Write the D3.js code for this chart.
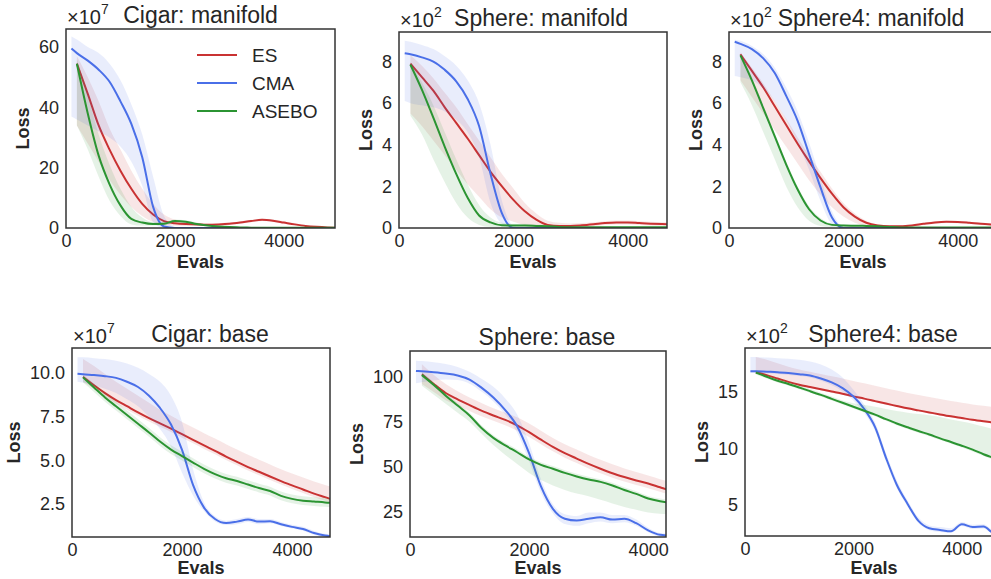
<!DOCTYPE html>
<html>
<head>
<meta charset="utf-8">
<script src="https://cdn.jsdelivr.net/npm/d3@7"></script>
<style>
  body { margin: 0; background: #fff; }
  svg { display: block; font-family: "Liberation Sans", Arial, sans-serif; }
</style>
</head>
<body>
<svg id="chart" width="991" height="579"></svg>
<script>
// evaluation counts shared by every curve (ES / ASEBO start at 200)
const evals = [100, 200, 400, 600, 800, 1000, 1200, 1400, 1600, 1800, 2000, 2200, 2400,
               2600, 2800, 3000, 3200, 3400, 3600, 3800, 4000, 4200, 4400, 4600, 4800, 5000];
const methods = ["ES", "CMA", "ASEBO"];
const xTicks = [0, 2000, 4000];

// Cigar: manifold  (x1e7)
const cigarM_es    = [null, 54.5, 44.5, 34, 26, 19, 13, 8, 4.5, 2.3, 1.6, 1.3, 1.2, 1.1, 1.2, 1.4, 1.8, 2.3, 2.7, 2.4, 1.8, 1.2, 0.7, 0.4, 0.2, 0.1];
const cigarM_esHi  = [null, 57, 50, 42, 33, 26, 19, 13, 8, 4.5, 2.8, 2.0, 1.7, 1.5, 1.6, 1.8, 2.2, 2.7, 3.1, 2.8, 2.2, 1.6, 1.0, 0.6, 0.35, 0.2];
const cigarM_esLo  = [null, 34, 28, 22, 16, 11, 7, 4, 2, 1, 0.8, 0.7, 0.7, 0.7, 0.8, 1.0, 1.4, 1.9, 2.3, 2.0, 1.4, 0.9, 0.4, 0.2, 0.1, 0.05];
const cigarM_cma   = [59.5, 58, 55.5, 52.5, 48.5, 42, 34.5, 23.5, 7, 0.5, 0, 0, 0, 0, 0, 0, 0, 0, 0, 0, 0, 0, 0, 0, 0, 0];
const cigarM_cmaHi = [63.5, 62.5, 60, 58, 54.5, 49, 41, 31, 17, 4, 0.3, 0, 0, 0, 0, 0, 0, 0, 0, 0, 0, 0, 0, 0, 0, 0];
const cigarM_cmaLo = [37, 36, 34, 32, 30, 27, 22, 14, 2, 0, 0, 0, 0, 0, 0, 0, 0, 0, 0, 0, 0, 0, 0, 0, 0, 0];
const cigarM_as    = [null, 54.5, 38, 24, 14.5, 7.5, 3, 1.8, 1.3, 1.4, 2.3, 2.1, 1.3, 0.8, 0.5, 0.3, 0.2, 0.1, 0.05, 0.05, 0.05, 0.05, 0.05, 0.05, 0.05, 0.05];
const cigarM_asHi  = [null, 56, 44, 31, 21, 13, 7, 3.5, 2.0, 2.0, 2.8, 2.6, 1.8, 1.1, 0.8, 0.5, 0.35, 0.2, 0.1, 0.1, 0.1, 0.1, 0.1, 0.1, 0.1, 0.1];
const cigarM_asLo  = [null, 34, 26, 17, 9, 4, 1.2, 0.8, 0.8, 0.9, 1.8, 1.6, 0.9, 0.5, 0.3, 0.15, 0.1, 0.05, 0, 0, 0, 0, 0, 0, 0, 0];

// Sphere: manifold  (x1e2)
const sphereM_es    = [null, 7.9, 7.25, 6.6, 5.8, 5.05, 4.3, 3.5, 2.7, 2.0, 1.35, 0.8, 0.4, 0.15, 0.1, 0.1, 0.13, 0.18, 0.24, 0.27, 0.27, 0.24, 0.21, 0.19, 0.18, 0.18];
const sphereM_esHi  = [null, 8.3, 7.8, 7.2, 6.5, 5.8, 5.0, 4.2, 3.4, 2.6, 1.9, 1.2, 0.7, 0.35, 0.25, 0.22, 0.24, 0.28, 0.33, 0.36, 0.36, 0.33, 0.3, 0.28, 0.27, 0.27];
const sphereM_esLo  = [null, 5.5, 4.9, 4.2, 3.5, 2.8, 2.1, 1.5, 0.9, 0.5, 0.3, 0.15, 0.08, 0.04, 0.03, 0.03, 0.05, 0.09, 0.14, 0.17, 0.17, 0.15, 0.12, 0.11, 0.1, 0.1];
const sphereM_cma   = [8.4, 8.35, 8.2, 8.0, 7.6, 7.05, 6.2, 4.9, 2.6, 0.7, 0, 0, 0, 0, 0, 0, 0, 0, 0, 0, 0, 0, 0, 0, 0, 0];
const sphereM_cmaHi = [9.0, 8.95, 8.8, 8.6, 8.25, 7.8, 7.1, 6.0, 4.0, 1.3, 0.1, 0, 0, 0, 0, 0, 0, 0, 0, 0, 0, 0, 0, 0, 0, 0];
const sphereM_cmaLo = [6.1, 6.0, 5.9, 5.8, 5.6, 5.2, 4.6, 3.4, 1.2, 0.2, 0, 0, 0, 0, 0, 0, 0, 0, 0, 0, 0, 0, 0, 0, 0, 0];
const sphereM_as    = [null, 7.85, 6.65, 5.3, 3.9, 2.6, 1.45, 0.6, 0.27, 0.13, 0.12, 0.12, 0.1, 0.08, 0.05, 0.04, 0.04, 0.04, 0.04, 0.04, 0.04, 0.04, 0.04, 0.04, 0.04, 0.04];
const sphereM_asHi  = [null, 8.0, 7.0, 5.9, 4.6, 3.3, 2.1, 1.1, 0.5, 0.25, 0.2, 0.2, 0.17, 0.14, 0.1, 0.08, 0.07, 0.07, 0.07, 0.07, 0.07, 0.07, 0.07, 0.07, 0.07, 0.07];
const sphereM_asLo  = [null, 5.4, 4.5, 3.3, 2.2, 1.2, 0.5, 0.15, 0.05, 0.03, 0.03, 0.03, 0.03, 0.02, 0.01, 0.01, 0.01, 0.01, 0.01, 0.01, 0.01, 0.01, 0.01, 0.01, 0.01, 0.01];

// Sphere4: manifold  (x1e2)
const sphere4M_es    = [null, 8.35, 7.55, 6.75, 5.85, 4.95, 4.05, 3.2, 2.4, 1.65, 1.0, 0.55, 0.25, 0.12, 0.08, 0.08, 0.12, 0.2, 0.27, 0.3, 0.29, 0.25, 0.2, 0.17, 0.15, 0.14];
const sphere4M_esHi  = [null, 8.45, 7.7, 6.95, 6.1, 5.25, 4.35, 3.5, 2.7, 1.9, 1.2, 0.7, 0.35, 0.18, 0.13, 0.13, 0.17, 0.25, 0.32, 0.35, 0.34, 0.3, 0.25, 0.22, 0.2, 0.19];
const sphere4M_esLo  = [null, 7.1, 6.3, 5.5, 4.7, 3.9, 3.1, 2.3, 1.6, 1.0, 0.55, 0.25, 0.1, 0.06, 0.04, 0.04, 0.07, 0.14, 0.21, 0.24, 0.23, 0.2, 0.15, 0.12, 0.1, 0.1];
const sphere4M_cma   = [8.95, 8.85, 8.6, 8.15, 7.45, 6.35, 5.15, 3.55, 1.95, 0.5, 0, 0, 0, 0, 0, 0, 0, 0, 0, 0, 0, 0, 0, 0, 0, 0];
const sphere4M_cmaHi = [9.05, 9.0, 8.75, 8.35, 7.7, 6.75, 5.6, 4.1, 2.4, 0.8, 0.05, 0, 0, 0, 0, 0, 0, 0, 0, 0, 0, 0, 0, 0, 0, 0];
const sphere4M_cmaLo = [7.3, 7.25, 7.1, 6.7, 6.1, 5.2, 4.1, 2.8, 1.3, 0.2, 0, 0, 0, 0, 0, 0, 0, 0, 0, 0, 0, 0, 0, 0, 0, 0];
const sphere4M_as    = [null, 8.3, 7.1, 5.75, 4.4, 3.05, 1.85, 0.9, 0.36, 0.15, 0.12, 0.11, 0.1, 0.08, 0.05, 0.03, 0.03, 0.03, 0.03, 0.03, 0.03, 0.03, 0.03, 0.03, 0.03, 0.03];
const sphere4M_asHi  = [null, 8.4, 7.25, 5.9, 4.55, 3.2, 2.0, 1.05, 0.48, 0.22, 0.17, 0.15, 0.14, 0.11, 0.08, 0.05, 0.05, 0.05, 0.05, 0.05, 0.05, 0.05, 0.05, 0.05, 0.05, 0.05];
const sphere4M_asLo  = [null, 7.0, 5.9, 4.6, 3.3, 2.0, 1.0, 0.35, 0.1, 0.05, 0.04, 0.04, 0.04, 0.03, 0.02, 0.01, 0.01, 0.01, 0.01, 0.01, 0.01, 0.01, 0.01, 0.01, 0.01, 0.01];

// Cigar: base  (x1e7)
const cigarB_es    = [null, 9.78, 9.3, 8.85, 8.45, 8.1, 7.75, 7.42, 7.12, 6.82, 6.5, 6.18, 5.86, 5.55, 5.22, 4.92, 4.62, 4.35, 4.08, 3.82, 3.57, 3.34, 3.1, 2.9, 2.7, 2.55];
const cigarB_esHi  = [null, 10.8, 10.4, 9.95, 9.5, 9.1, 8.7, 8.3, 7.9, 7.55, 7.2, 6.88, 6.56, 6.25, 5.93, 5.62, 5.32, 5.04, 4.77, 4.5, 4.25, 4.02, 3.8, 3.6, 3.4, 3.25];
const cigarB_esLo  = [null, 9.5, 9.1, 8.65, 8.25, 7.9, 7.55, 7.22, 6.92, 6.62, 6.3, 5.98, 5.66, 5.35, 5.02, 4.72, 4.42, 4.15, 3.88, 3.62, 3.37, 3.14, 2.9, 2.7, 2.5, 2.35];
const cigarB_cma   = [9.96, 9.93, 9.88, 9.82, 9.72, 9.5, 9.2, 8.7, 8.0, 7.05, 5.6, 3.6, 2.3, 1.65, 1.42, 1.5, 1.62, 1.5, 1.52, 1.35, 1.2, 1.08, 0.85, 0.7, 0.65, 0.65];
const cigarB_cmaHi = [10.9, 10.9, 10.85, 10.8, 10.7, 10.55, 10.3, 9.95, 9.5, 8.7, 7.2, 4.5, 2.6, 1.8, 1.55, 1.65, 1.77, 1.65, 1.65, 1.48, 1.32, 1.2, 0.97, 0.8, 0.75, 0.75];
const cigarB_cmaLo = [9.5, 9.45, 9.3, 9.1, 8.85, 8.5, 8.1, 7.5, 6.8, 5.8, 4.3, 3.0, 2.1, 1.5, 1.3, 1.35, 1.48, 1.35, 1.4, 1.25, 1.1, 0.98, 0.75, 0.6, 0.55, 0.55];
const cigarB_as    = [null, 9.75, 9.17, 8.6, 8.1, 7.6, 7.1, 6.6, 6.08, 5.62, 5.25, 4.88, 4.52, 4.22, 3.98, 3.82, 3.62, 3.42, 3.25, 2.97, 2.8, 2.7, 2.65, 2.6, 2.57, 2.55];
const cigarB_asHi  = [null, 9.9, 9.4, 8.85, 8.35, 7.85, 7.35, 6.85, 6.33, 5.87, 5.5, 5.13, 4.77, 4.47, 4.23, 4.07, 3.87, 3.67, 3.5, 3.22, 3.05, 2.95, 2.9, 2.85, 2.82, 2.8];
const cigarB_asLo  = [null, 9.45, 8.92, 8.35, 7.85, 7.35, 6.85, 6.35, 5.83, 5.37, 5.0, 4.63, 4.27, 3.97, 3.73, 3.57, 3.37, 3.17, 3.0, 2.72, 2.55, 2.45, 2.4, 2.35, 2.32, 2.3];

// Sphere: base
const sphereB_es    = [null, 101.5, 96, 91, 87.5, 84.3, 81.2, 78.5, 76, 73, 69.2, 65, 61, 57.5, 54.5, 51.5, 48.8, 46.3, 44.2, 42.3, 40.6, 38.5, 36.5, 35, 33.8, 33];
const sphereB_esHi  = [null, 107, 101, 96, 92, 88.5, 85.5, 82.5, 80, 77.5, 74, 70, 66, 62.5, 59.5, 56.5, 53.8, 51.3, 49, 47, 45, 43, 41.2, 39.8, 38.5, 37.5];
const sphereB_esLo  = [null, 96, 91.5, 87, 84, 81, 78, 75.5, 73, 70, 66.5, 62.5, 58.5, 55, 52, 49, 46.3, 43.8, 41.7, 39.8, 38, 36, 34, 32.5, 31.5, 30.5];
const sphereB_cma   = [103.3, 103.1, 102.6, 101.9, 100.8, 98.5, 94, 88.5, 81.5, 72.5, 57.5, 39, 26.5, 21, 20, 21, 21.8, 20.5, 21, 18.5, 14.5, 12, 11.5, 11, 11, 11];
const sphereB_cmaHi = [109, 108.8, 108.2, 107.2, 105.5, 102.8, 99, 94.5, 88, 79, 63, 43, 29, 23.5, 22.5, 24.5, 24.5, 23, 23, 20.5, 16, 13, 12.5, 12, 12, 12];
const sphereB_cmaLo = [96.5, 97, 98, 98.5, 98.2, 96.2, 91.8, 86.3, 79, 69, 53, 35.5, 24, 18, 17, 18.5, 19.5, 18.5, 19, 17, 13.5, 11, 10.5, 10, 10, 10];
const sphereB_as    = [null, 101, 95.5, 89.5, 84, 78.5, 71.5, 66, 61.8, 58, 54, 51, 48.8, 46.5, 44.5, 42.8, 41.5, 39.5, 37, 34.8, 32.2, 30.7, 29.8, 29.5, 29.3, 29.2];
const sphereB_asHi  = [null, 102.5, 97, 91, 85.5, 80, 73, 67.5, 63.3, 59.5, 55.5, 52.5, 50.3, 48, 46, 44.3, 43, 41, 38.5, 36.3, 33.7, 32.2, 31.3, 31, 30.8, 30.7];
const sphereB_asLo  = [null, 95, 90, 85, 80, 75, 68.5, 62, 56.5, 51.5, 46.5, 42.5, 39.5, 37, 35, 33.5, 31.5, 29.5, 27.5, 26, 24.5, 23.8, 23.5, 23.3, 23.2, 23.1];

// Sphere4: base  (x1e2)
const sphere4B_es    = [null, 16.75, 16.5, 16.2, 15.9, 15.65, 15.45, 15.25, 15.05, 14.85, 14.62, 14.42, 14.2, 13.98, 13.77, 13.56, 13.38, 13.2, 13.02, 12.85, 12.7, 12.55, 12.42, 12.3, 12.2, 12.1];
const sphere4B_esHi  = [null, 18.1, 17.85, 17.55, 17.25, 17.0, 16.8, 16.6, 16.4, 16.2, 15.98, 15.78, 15.56, 15.34, 15.13, 14.92, 14.74, 14.56, 14.38, 14.21, 14.06, 13.91, 13.78, 13.66, 13.56, 13.46];
const sphere4B_esLo  = [null, 16.65, 16.4, 16.1, 15.8, 15.55, 15.35, 15.15, 14.95, 14.75, 14.52, 14.32, 14.1, 13.88, 13.67, 13.46, 13.28, 13.1, 12.92, 12.75, 12.6, 12.45, 12.32, 12.2, 12.1, 12.0];
const sphere4B_cma   = [16.85, 16.84, 16.8, 16.76, 16.68, 16.58, 16.47, 16.2, 15.85, 15.35, 14.6, 13.5, 11.9, 9.2, 6.8, 5.1, 3.6, 2.95, 2.8, 2.68, 3.3, 3.05, 3.1, 2.5, 2.45, 2.45];
const sphere4B_cmaHi = [18.1, 18.1, 18.05, 18.0, 17.95, 17.85, 17.7, 17.45, 17.0, 16.3, 15.2, 13.9, 12.3, 9.6, 7.2, 5.4, 3.9, 3.2, 3.05, 2.95, 3.5, 3.25, 3.3, 2.7, 2.6, 2.6];
const sphere4B_cmaLo = [16.7, 16.7, 16.65, 16.6, 16.52, 16.42, 16.3, 16.0, 15.6, 15.05, 14.25, 13.15, 11.55, 8.85, 6.5, 4.85, 3.4, 2.78, 2.62, 2.55, 3.15, 2.88, 2.92, 2.35, 2.3, 2.3];
const sphere4B_as    = [null, 16.72, 16.35, 16.0, 15.72, 15.4, 15.08, 14.75, 14.4, 14.05, 13.7, 13.35, 13.0, 12.6, 12.22, 11.88, 11.55, 11.25, 10.9, 10.58, 10.25, 9.9, 9.5, 9.15, 8.8, 8.5];
const sphere4B_asHi  = [null, 16.92, 16.55, 16.2, 15.92, 15.6, 15.28, 14.95, 14.6, 14.25, 14.0, 13.85, 13.7, 13.5, 13.32, 13.18, 13.05, 12.95, 12.8, 12.58, 12.4, 12.2, 11.95, 11.7, 11.45, 11.2];
const sphere4B_asLo  = [null, 16.55, 16.2, 15.85, 15.57, 15.25, 14.93, 14.6, 14.25, 13.9, 13.55, 13.2, 12.85, 12.45, 12.07, 11.73, 11.4, 11.1, 10.75, 10.43, 10.1, 9.75, 9.35, 9.0, 8.65, 8.35];

const color = { ES: "#c93232", CMA: "#4a6fe8", ASEBO: "#2b9432" };
const ink = "#262626";

function trio(es, esHi, esLo, cma, cmaHi, cmaLo, as, asHi, asLo) {
  return [
    { name: "ES", mean: es, hi: esHi, lo: esLo },
    { name: "CMA", mean: cma, hi: cmaHi, lo: cmaLo },
    { name: "ASEBO", mean: as, hi: asHi, lo: asLo }
  ];
}

const panels = [
  { title: "Cigar: manifold", exp: "7", left: 66, top: 29, w: 269, h: 199, titleDx: 0,
    xMax: 4940, yDom: [0, 66], yTicks: [0, 20, 40, 60], fmt: d3.format("d"), legend: true,
    series: trio(cigarM_es, cigarM_esHi, cigarM_esLo, cigarM_cma, cigarM_cmaHi, cigarM_cmaLo, cigarM_as, cigarM_asHi, cigarM_asLo) },
  { title: "Sphere: manifold", exp: "2", left: 399, top: 32, w: 268, h: 196, titleDx: 8,
    xMax: 4685, yDom: [0, 9.42], yTicks: [0, 2, 4, 6, 8], fmt: d3.format("d"),
    series: trio(sphereM_es, sphereM_esHi, sphereM_esLo, sphereM_cma, sphereM_cmaHi, sphereM_cmaLo, sphereM_as, sphereM_asHi, sphereM_asLo) },
  { title: "Sphere4: manifold", exp: "2", left: 729, top: 32, w: 268, h: 196, titleDx: 8,
    xMax: 4685, yDom: [0, 9.42], yTicks: [0, 2, 4, 6, 8], fmt: d3.format("d"),
    series: trio(sphere4M_es, sphere4M_esHi, sphere4M_esLo, sphere4M_cma, sphere4M_cmaHi, sphere4M_cmaLo, sphere4M_as, sphere4M_asHi, sphere4M_asLo) },
  { title: "Cigar: base", exp: "7", left: 72, top: 348, w: 258, h: 189, titleDx: 9,
    xMax: 4690, yDom: [0.62, 11.43], yTicks: [2.5, 5.0, 7.5, 10.0], fmt: d3.format(".1f"),
    series: trio(cigarB_es, cigarB_esHi, cigarB_esLo, cigarB_cma, cigarB_cmaHi, cigarB_cmaLo, cigarB_as, cigarB_asHi, cigarB_asLo) },
  { title: "Sphere: base", exp: null, left: 410, top: 351, w: 256, h: 186, titleDx: 9,
    xMax: 4300, yDom: [10.8, 114.4], yTicks: [25, 50, 75, 100], fmt: d3.format("d"),
    series: trio(sphereB_es, sphereB_esHi, sphereB_esLo, sphereB_cma, sphereB_cmaHi, sphereB_cmaLo, sphereB_as, sphereB_asHi, sphereB_asLo) },
  { title: "Sphere4: base", exp: "2", left: 745, top: 348, w: 258, h: 188, titleDx: 9,
    xMax: 4760, yDom: [2.26, 18.9], yTicks: [5, 10, 15], fmt: d3.format("d"),
    series: trio(sphere4B_es, sphere4B_esHi, sphere4B_esLo, sphere4B_cma, sphere4B_cmaHi, sphere4B_cmaLo, sphere4B_as, sphere4B_asHi, sphere4B_asLo) }
];

const svg = d3.select("#chart");

panels.forEach(function(p, i) {
  const g = svg.append("g").attr("transform", "translate(" + p.left + "," + p.top + ")");
  const x = d3.scaleLinear().domain([0, p.xMax]).range([0, p.w]);
  const y = d3.scaleLinear().domain(p.yDom).range([p.h, 0]);

  g.append("clipPath").attr("id", "clip" + i)
    .append("rect").attr("width", p.w).attr("height", p.h);
  const plot = g.append("g").attr("clip-path", "url(#clip" + i + ")");

  p.series.forEach(function(s) {
    const band = d3.area()
      .defined((d, j) => s.mean[j] != null)
      .x(d => x(d))
      .y0((d, j) => y(s.lo[j]))
      .y1((d, j) => y(s.hi[j]))
      .curve(d3.curveMonotoneX);
    const line = d3.line()
      .defined((d, j) => s.mean[j] != null)
      .x(d => x(d))
      .y((d, j) => y(s.mean[j]))
      .curve(d3.curveMonotoneX);
    plot.append("path").datum(evals)
      .attr("d", band)
      .attr("fill", color[s.name])
      .attr("fill-opacity", 0.12);
    plot.append("path").datum(evals)
      .attr("d", line)
      .attr("fill", "none")
      .attr("stroke", color[s.name])
      .attr("stroke-width", 2);
  });

  // axes (no tick marks, seaborn white style)
  const xAx = g.append("g").attr("transform", "translate(0," + p.h + ")")
    .call(d3.axisBottom(x).tickValues(xTicks).tickFormat(d3.format("d")).tickSize(0).tickPadding(6));
  const yAx = g.append("g")
    .call(d3.axisLeft(y).tickValues(p.yTicks).tickFormat(p.fmt).tickSize(0).tickPadding(7));
  [xAx, yAx].forEach(function(a) {
    a.select(".domain").remove();
    a.selectAll("text").attr("font-size", 18).attr("fill", ink)
      .attr("font-family", "Liberation Sans, Arial, sans-serif");
  });

  g.append("rect")
    .attr("width", p.w).attr("height", p.h)
    .attr("fill", "none").attr("stroke", "#333").attr("stroke-width", 1.5);

  // axis labels
  const yb = yAx.node().getBBox();
  g.append("text")
    .attr("transform", "translate(" + (yb.x - 16) + "," + (p.h / 2) + ") rotate(-90)")
    .attr("text-anchor", "middle").attr("dy", "0.35em")
    .attr("font-size", 18).attr("font-weight", "bold").attr("fill", ink)
    .text("Loss");
  g.append("text")
    .attr("x", p.w / 2).attr("y", Math.min(p.h + 40, 574 - p.top))
    .attr("text-anchor", "middle")
    .attr("font-size", 18).attr("font-weight", "bold").attr("fill", ink)
    .text("Evals");

  // title and scale offset
  g.append("text")
    .attr("x", p.w / 2 + p.titleDx).attr("y", -6)
    .attr("text-anchor", "middle")
    .attr("font-size", 23).attr("fill", ink)
    .text(p.title);
  if (p.exp) {
    const t = g.append("text").attr("x", 1).attr("y", -5)
      .attr("font-size", 20).attr("fill", ink);
    t.append("tspan").text("\u00d710");
    t.append("tspan").attr("dy", -10).attr("font-size", 14).text(p.exp);
  }

  if (p.legend) {
    const lg = g.append("g").attr("transform", "translate(131,26)");
    methods.forEach(function(m, k) {
      const row = lg.append("g").attr("transform", "translate(0," + (k * 28) + ")");
      row.append("line").attr("x1", 0).attr("x2", 40)
        .attr("stroke", color[m]).attr("stroke-width", 2);
      row.append("text").attr("x", 55).attr("dy", "0.35em")
        .attr("font-size", 19).attr("fill", ink).text(m);
    });
  }
});
</script>
</body>
</html>
